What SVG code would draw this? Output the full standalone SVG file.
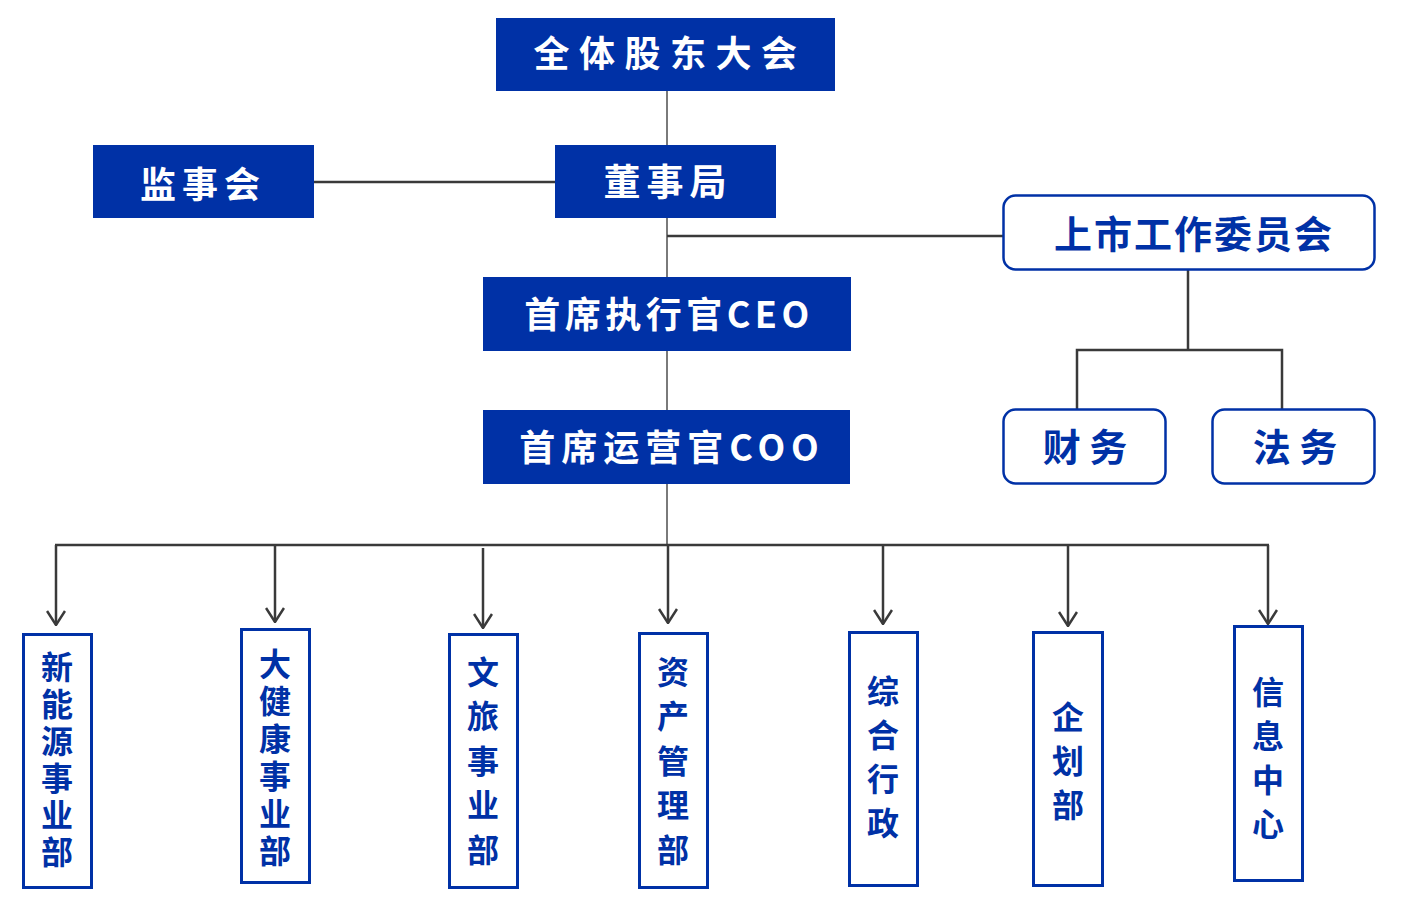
<svg xmlns="http://www.w3.org/2000/svg" width="1412" height="916" viewBox="0 0 1412 916">
<defs>
<style>
.fill{fill:#0031a6}
.wt{fill:#fff;font-family:"Noto Sans CJK SC","Noto Sans",sans-serif;font-weight:700;text-anchor:middle}
.ob{fill:#fff;stroke:#0031a6;stroke-width:2.5}
.bt{fill:#0031a6;font-family:"Noto Sans CJK SC","Noto Sans",sans-serif;font-weight:700;text-anchor:middle}
.vb{fill:#fff;stroke:#0031a6;stroke-width:3}
.vt{fill:#0031a6;font-family:"Noto Sans CJK SC",sans-serif;font-weight:700;font-size:32px;text-anchor:middle;writing-mode:vertical-rl}
.ln{stroke:#3a3a3a;stroke-width:2.5;fill:none}
.lg{stroke:#7a7a7a;stroke-width:2;fill:none}
</style>
<marker id="arr" viewBox="0 0 16 20" refX="15" refY="10" markerWidth="16" markerHeight="20" markerUnits="userSpaceOnUse" orient="auto">
<path d="M1,1 L15,10 L1,19" fill="none" stroke="#3a3a3a" stroke-width="2.5"/>
</marker>
</defs>
<g id="connectors">
<line class="lg" x1="667" y1="91" x2="667" y2="545"/>
<line class="ln" x1="314" y1="182" x2="555" y2="182"/>
<line class="ln" x1="667" y1="236" x2="1003" y2="236"/>
<polyline class="ln" points="1188,270 1188,350"/>
<polyline class="ln" points="1077,409 1077,350 1282,350 1282,409"/>
<line class="ln" x1="55" y1="545" x2="1269" y2="545"/>
<line class="ln" x1="56" y1="545" x2="56" y2="625" marker-end="url(#arr)"/>
<line class="ln" x1="275" y1="545" x2="275" y2="622" marker-end="url(#arr)"/>
<line class="ln" x1="483" y1="548" x2="483" y2="628" marker-end="url(#arr)"/>
<line class="ln" x1="668" y1="545" x2="668" y2="623" marker-end="url(#arr)"/>
<line class="ln" x1="883" y1="546" x2="883" y2="624" marker-end="url(#arr)"/>
<line class="ln" x1="1068" y1="546" x2="1068" y2="626" marker-end="url(#arr)"/>
<line class="ln" x1="1268" y1="545" x2="1268" y2="624" marker-end="url(#arr)"/>
</g>
<g id="n-gudong"><rect class="fill" x="496" y="18" width="339" height="73"/><text class="wt" x="670" y="67" font-size="36" letter-spacing="9.5">全体股东大会</text></g>
<g id="n-dongshi"><rect class="fill" x="555" y="145" width="221" height="73"/><text class="wt" x="668" y="196" font-size="37" letter-spacing="6">董事局</text></g>
<g id="n-jianshi"><rect class="fill" x="93" y="145" width="221" height="73"/><text class="wt" x="203" y="198" font-size="36" letter-spacing="6">监事会</text></g>
<g id="n-ceo"><rect class="fill" x="483" y="277" width="368" height="74"/><text class="wt" x="669" y="328" font-size="36" letter-spacing="4.5">首席执行官CEO</text></g>
<g id="n-coo"><rect class="fill" x="483" y="410" width="367" height="74"/><text class="wt" x="672" y="461" font-size="36" letter-spacing="6">首席运营官COO</text></g>
<g id="n-shangshi"><rect class="ob" x="1003.5" y="195.5" width="371" height="74" rx="12"/><text class="bt" x="1194" y="248" font-size="38" letter-spacing="2">上市工作委员会</text></g>
<g id="n-caiwu"><rect class="ob" x="1003.5" y="409.5" width="162" height="74" rx="12"/><text class="bt" x="1085" y="461" font-size="38" xml:space="preserve">财 务</text></g>
<g id="n-fawu"><rect class="ob" x="1212.5" y="409.5" width="162" height="74" rx="12"/><text class="bt" x="1295" y="461" font-size="38" xml:space="preserve">法 务</text></g>
<g id="n-xinnengyuan"><rect class="vb" x="23.5" y="634.5" width="68" height="253"/>
<text class="vt" x="57" y="762" letter-spacing="5">新能源事业部</text></g>
<g id="n-dajiankang"><rect class="vb" x="241.5" y="629.5" width="68" height="253"/>
<text class="vt" x="275" y="760" letter-spacing="5.5">大健康事业部</text></g>
<g id="n-wenlv"><rect class="vb" x="449.5" y="634.5" width="68" height="253"/>
<text class="vt" x="483" y="767" letter-spacing="12.5">文旅事业部</text></g>
<g id="n-zichan"><rect class="vb" x="639.5" y="633.5" width="68" height="254"/>
<text class="vt" x="673" y="767" letter-spacing="12.5">资产管理部</text></g>
<g id="n-zonghe"><rect class="vb" x="849.5" y="632.5" width="68" height="253"/>
<text class="vt" x="883" y="763" letter-spacing="12">综合行政</text></g>
<g id="n-qihua"><rect class="vb" x="1033.5" y="632.5" width="69" height="253"/>
<text class="vt" x="1068" y="767" letter-spacing="12">企划部</text></g>
<g id="n-xinxi"><rect class="vb" x="1234.5" y="626.5" width="68" height="254"/>
<text class="vt" x="1268" y="764" letter-spacing="12">信息中心</text></g>
</svg>
